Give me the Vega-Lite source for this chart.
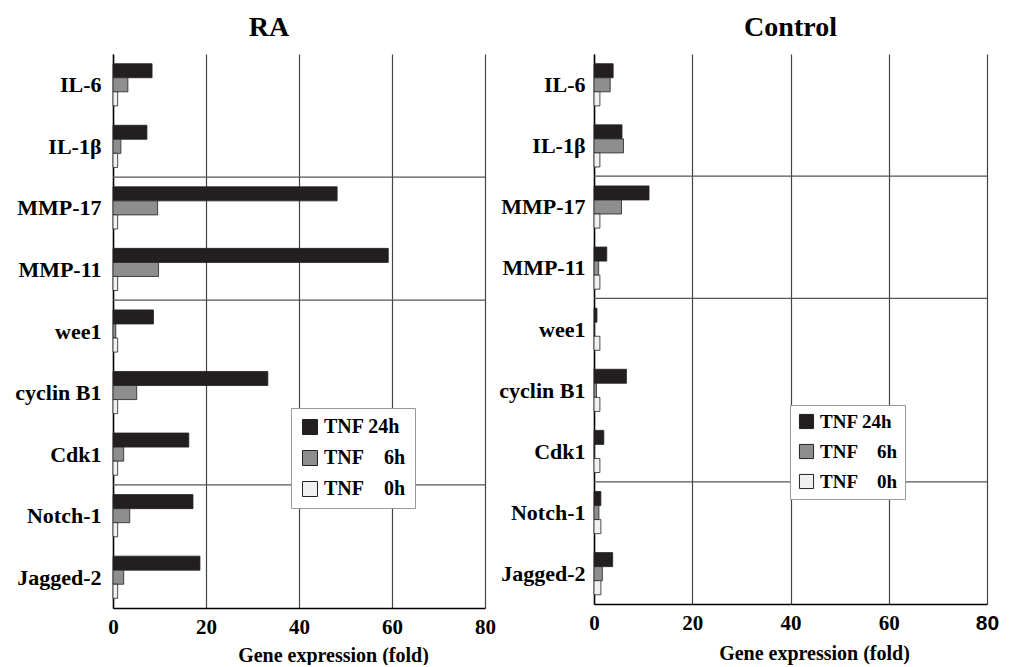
{
  "$schema": "https://vega.github.io/schema/vega-lite/v6.json",
  "background": "white",
  "padding": {"left": 14, "top": 14, "right": 5, "bottom": 0},
  "spacing": 2,
  "datasets": {
    "bars": [
      {"panel": "RA", "gene": "IL-6", "series": "24h", "value": 8.4},
      {"panel": "RA", "gene": "IL-6", "series": "6h", "value": 3.2},
      {"panel": "RA", "gene": "IL-6", "series": "0h", "value": 1.0},
      {"panel": "RA", "gene": "IL-1β", "series": "24h", "value": 7.3},
      {"panel": "RA", "gene": "IL-1β", "series": "6h", "value": 1.7},
      {"panel": "RA", "gene": "IL-1β", "series": "0h", "value": 1.0},
      {"panel": "RA", "gene": "MMP-17", "series": "24h", "value": 48.2},
      {"panel": "RA", "gene": "MMP-17", "series": "6h", "value": 9.6},
      {"panel": "RA", "gene": "MMP-17", "series": "0h", "value": 1.0},
      {"panel": "RA", "gene": "MMP-11", "series": "24h", "value": 59.2},
      {"panel": "RA", "gene": "MMP-11", "series": "6h", "value": 9.8},
      {"panel": "RA", "gene": "MMP-11", "series": "0h", "value": 1.0},
      {"panel": "RA", "gene": "wee1", "series": "24h", "value": 8.7},
      {"panel": "RA", "gene": "wee1", "series": "6h", "value": 0.6},
      {"panel": "RA", "gene": "wee1", "series": "0h", "value": 1.0},
      {"panel": "RA", "gene": "cyclin B1", "series": "24h", "value": 33.3},
      {"panel": "RA", "gene": "cyclin B1", "series": "6h", "value": 5.1},
      {"panel": "RA", "gene": "cyclin B1", "series": "0h", "value": 1.0},
      {"panel": "RA", "gene": "Cdk1", "series": "24h", "value": 16.3},
      {"panel": "RA", "gene": "Cdk1", "series": "6h", "value": 2.3},
      {"panel": "RA", "gene": "Cdk1", "series": "0h", "value": 1.0},
      {"panel": "RA", "gene": "Notch-1", "series": "24h", "value": 17.2},
      {"panel": "RA", "gene": "Notch-1", "series": "6h", "value": 3.6},
      {"panel": "RA", "gene": "Notch-1", "series": "0h", "value": 1.0},
      {"panel": "RA", "gene": "Jagged-2", "series": "24h", "value": 18.7},
      {"panel": "RA", "gene": "Jagged-2", "series": "6h", "value": 2.3},
      {"panel": "RA", "gene": "Jagged-2", "series": "0h", "value": 1.0},
      {"panel": "Control", "gene": "IL-6", "series": "24h", "value": 3.9},
      {"panel": "Control", "gene": "IL-6", "series": "6h", "value": 3.3},
      {"panel": "Control", "gene": "IL-6", "series": "0h", "value": 1.2},
      {"panel": "Control", "gene": "IL-1β", "series": "24h", "value": 5.7},
      {"panel": "Control", "gene": "IL-1β", "series": "6h", "value": 6.0},
      {"panel": "Control", "gene": "IL-1β", "series": "0h", "value": 1.2},
      {"panel": "Control", "gene": "MMP-17", "series": "24h", "value": 11.2},
      {"panel": "Control", "gene": "MMP-17", "series": "6h", "value": 5.6},
      {"panel": "Control", "gene": "MMP-17", "series": "0h", "value": 1.2},
      {"panel": "Control", "gene": "MMP-11", "series": "24h", "value": 2.6},
      {"panel": "Control", "gene": "MMP-11", "series": "6h", "value": 0.95},
      {"panel": "Control", "gene": "MMP-11", "series": "0h", "value": 1.2},
      {"panel": "Control", "gene": "wee1", "series": "24h", "value": 0.6},
      {"panel": "Control", "gene": "wee1", "series": "6h", "value": 0.1},
      {"panel": "Control", "gene": "wee1", "series": "0h", "value": 1.2},
      {"panel": "Control", "gene": "cyclin B1", "series": "24h", "value": 6.6},
      {"panel": "Control", "gene": "cyclin B1", "series": "6h", "value": 0.5},
      {"panel": "Control", "gene": "cyclin B1", "series": "0h", "value": 1.2},
      {"panel": "Control", "gene": "Cdk1", "series": "24h", "value": 2.0},
      {"panel": "Control", "gene": "Cdk1", "series": "6h", "value": 0.1},
      {"panel": "Control", "gene": "Cdk1", "series": "0h", "value": 1.2},
      {"panel": "Control", "gene": "Notch-1", "series": "24h", "value": 1.4},
      {"panel": "Control", "gene": "Notch-1", "series": "6h", "value": 1.0},
      {"panel": "Control", "gene": "Notch-1", "series": "0h", "value": 1.4},
      {"panel": "Control", "gene": "Jagged-2", "series": "24h", "value": 3.8},
      {"panel": "Control", "gene": "Jagged-2", "series": "6h", "value": 1.7},
      {"panel": "Control", "gene": "Jagged-2", "series": "0h", "value": 1.4}
    ],
    "bounds": [
      {"gene": "MMP-17"},
      {"gene": "wee1"},
      {"gene": "Notch-1"}
    ]
  },
  "resolve": {"scale": {"color": "independent", "x": "independent", "y": "independent"}, "legend": {"color": "independent"}},
  "config": {
    "view": {"stroke": null},
    "font": "Liberation Serif"
  },
  "hconcat": [
    {
      "width": 372,
      "height": 554,
      "title": {"text": "RA", "font": "Liberation Serif", "fontSize": 28, "fontWeight": "bold", "color": "black", "offset": 1, "dx": -30},
      "layer": [
        {
          "data": {"name": "bounds"},
          "mark": {"type": "rule", "color": "#555", "strokeWidth": 1.2},
          "encoding": {"y": {"field": "gene", "type": "nominal", "bandPosition": 0}}
        },
        {
          "data": {"name": "bars"},
          "transform": [{"filter": "datum.panel == 'RA'"}],
          "mark": {"type": "bar", "stroke": "#222", "strokeWidth": 0.8},
          "encoding": {
            "y": {"field": "gene", "type": "nominal",
              "scale": {"domain": ["IL-6", "IL-1β", "MMP-17", "MMP-11", "wee1", "cyclin B1", "Cdk1", "Notch-1", "Jagged-2"], "paddingInner": 0, "paddingOuter": 0},
              "axis": {"title": null, "labelFont": "Liberation Serif", "labelFontWeight": "bold", "labelFontSize": 22, "labelColor": "black", "tickBand": "extent", "tickSize": 0, "labelPadding": 12, "domainColor": "black", "domainWidth": 1.5, "grid": false}},
            "yOffset": {"field": "series", "type": "nominal", "scale": {"domain": ["24h", "6h", "0h"], "paddingInner": 0, "paddingOuter": 0.69}},
            "x": {"field": "value", "type": "quantitative", "scale": {"domain": [0, 80], "nice": false},
              "axis": {"values": [0, 20, 40, 60, 80], "grid": true, "gridColor": "#444", "gridWidth": 1.2, "tickSize": 0, "labelPadding": 8, "labelFontSize": 21, "labelFont": "Liberation Serif", "labelFontWeight": "bold", "labelColor": "black", "labelFlush": false, "domainColor": "black", "domainWidth": 1.5, "title": "Gene expression (fold)", "titleFont": "Liberation Serif", "titleFontSize": 20, "titleFontWeight": "bold", "titleColor": "black", "titlePadding": 8, "titleX": 220}},
            "color": {"field": "series", "type": "nominal",
              "scale": {"domain": ["24h", "6h", "0h"], "range": ["#231f20", "#8e8e8e", "#f0f0f0"]},
              "legend": {"orient": "none", "legendX": 178, "legendY": 354, "title": null,
                "labelExpr": "datum.value == '24h' ? 'TNF 24h' : datum.value == '6h' ? 'TNF\u00a0\u00a0\u00a0 6h' : 'TNF\u00a0\u00a0\u00a0 0h'",
                "fillColor": "white", "strokeColor": "#999", "padding": 9, "symbolType": "square", "symbolSize": 225, "symbolStrokeColor": "#222", "symbolStrokeWidth": 1,
                "labelFont": "Liberation Serif", "labelFontWeight": "bold", "labelFontSize": 20, "labelColor": "black", "rowPadding": 11}}
          }
        }
      ]
    },
    {
      "width": 393,
      "height": 550,
      "title": {"text": "Control", "font": "Liberation Serif", "fontSize": 28, "fontWeight": "bold", "color": "black", "offset": 1},
      "layer": [
        {
          "data": {"name": "bounds"},
          "mark": {"type": "rule", "color": "#555", "strokeWidth": 1.2},
          "encoding": {"y": {"field": "gene", "type": "nominal", "bandPosition": 0}}
        },
        {
          "data": {"name": "bars"},
          "transform": [{"filter": "datum.panel == 'Control'"}],
          "mark": {"type": "bar", "stroke": "#222", "strokeWidth": 0.8},
          "encoding": {
            "y": {"field": "gene", "type": "nominal",
              "scale": {"domain": ["IL-6", "IL-1β", "MMP-17", "MMP-11", "wee1", "cyclin B1", "Cdk1", "Notch-1", "Jagged-2"], "paddingInner": 0, "paddingOuter": 0},
              "axis": {"title": null, "labelFont": "Liberation Serif", "labelFontWeight": "bold", "labelFontSize": 22, "labelColor": "black", "tickBand": "extent", "tickSize": 0, "labelPadding": 9, "domainColor": "black", "domainWidth": 1.5, "grid": false}},
            "yOffset": {"field": "series", "type": "nominal", "scale": {"domain": ["24h", "6h", "0h"], "paddingInner": 0, "paddingOuter": 0.69}},
            "x": {"field": "value", "type": "quantitative", "scale": {"domain": [0, 80], "nice": false},
              "axis": {"values": [0, 20, 40, 60, 80], "grid": true, "gridColor": "#444", "gridWidth": 1.2, "tickSize": 0, "labelPadding": 8, "labelFontSize": 21,
                "labelFont": {"condition": {"test": "datum.value == 80", "value": "Liberation Sans"}, "value": "Liberation Serif"},
                "labelFontWeight": "bold", "labelColor": "black", "labelFlush": false, "domainColor": "black", "domainWidth": 1.5, "title": "Gene expression (fold)", "titleFont": "Liberation Serif", "titleFontSize": 20, "titleFontWeight": "bold", "titleColor": "black", "titlePadding": 10, "titleX": 220}},
            "color": {"field": "series", "type": "nominal",
              "scale": {"domain": ["24h", "6h", "0h"], "range": ["#231f20", "#8e8e8e", "#f0f0f0"]},
              "legend": {"orient": "none", "legendX": 196, "legendY": 351, "title": null,
                "labelExpr": "datum.value == '24h' ? 'TNF 24h' : datum.value == '6h' ? 'TNF\u00a0\u00a0\u00a0 6h' : 'TNF\u00a0\u00a0\u00a0 0h'",
                "fillColor": "white", "strokeColor": "#999", "padding": 7, "symbolType": "square", "symbolSize": 200, "symbolStrokeColor": "#222", "symbolStrokeWidth": 1,
                "labelFont": "Liberation Serif", "labelFontWeight": "bold", "labelFontSize": 19, "labelColor": "black", "rowPadding": 10}}
          }
        }
      ]
    }
  ]
}
